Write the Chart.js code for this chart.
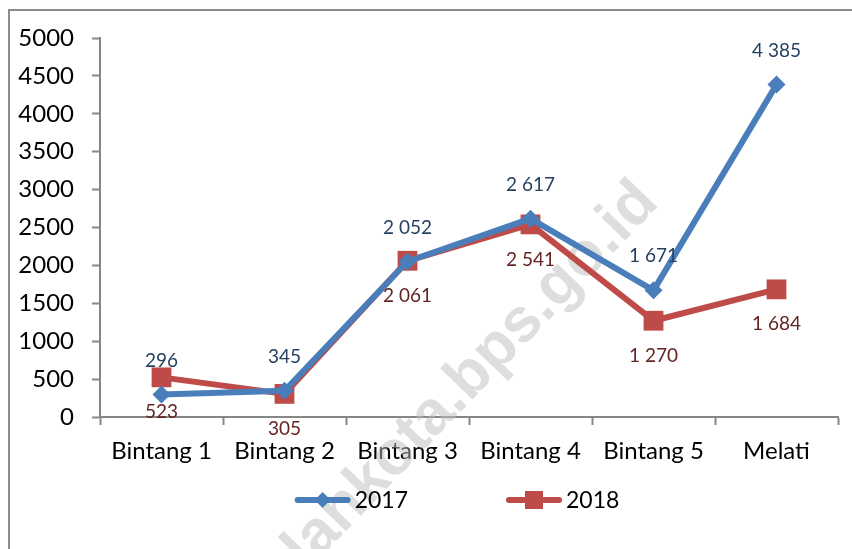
<!DOCTYPE html>
<html>
<head>
<meta charset="utf-8">
<script src="https://cdn.jsdelivr.net/npm/chart.js@4/dist/chart.umd.min.js"></script>
<style>
  html, body { margin: 0; padding: 0; background: #fff; }
  #wrap { width: 852px; height: 549px; position: relative; }
  canvas { display: block; }
</style>
</head>
<body>
<div id="wrap"><canvas id="hotelChart" width="852" height="549"></canvas></div>
<script>
// Data
const categories = ['Bintang 1', 'Bintang 2', 'Bintang 3', 'Bintang 4', 'Bintang 5', 'Melati'];
const series2017 = [296, 345, 2052, 2617, 1671, 4385];
const series2018 = [523, 305, 2061, 2541, 1270, 1684];
const seriesNames = ['2017', '2018'];
const yTicks = [0, 500, 1000, 1500, 2000, 2500, 3000, 3500, 4000, 4500, 5000];

const FONT = 'Lato, "Liberation Sans", sans-serif';
const BLUE = '#4A7EBB';
const RED = '#BE4B48';
const BLUE_TXT = '#254061';
const RED_TXT = '#632523';
const AXIS = '#868686';

// "4385" -> "4 385"
function fmt(v) {
    return String(v).replace(/\B(?=(\d{3})+(?!\d))/g, ' ');
}

// Outer frame of the original picture
const framePlugin = {
    id: 'frame',
    beforeDraw(chart) {
        const ctx = chart.ctx;
        ctx.save();
        ctx.fillStyle = '#fff';
        ctx.fillRect(0, 0, chart.width, chart.height);
        ctx.strokeStyle = '#8c8c8c';
        ctx.lineWidth = 2;
        ctx.beginPath();
        ctx.moveTo(9, chart.height + 5);
        ctx.lineTo(9, 10);
        ctx.lineTo(chart.width + 5, 10);
        ctx.stroke();
        ctx.restore();
    }
};

// Faint diagonal watermark
const watermarkPlugin = {
    id: 'watermark',
    beforeDatasetsDraw(chart) {
        const ctx = chart.ctx;
        ctx.save();
        ctx.translate(648, 192);
        ctx.rotate(-Math.PI / 4 - 0.02);
        ctx.font = 'bold 62px "Liberation Sans", Arial, sans-serif';
        ctx.fillStyle = 'rgba(190,190,190,0.5)';
        ctx.textAlign = 'right';
        ctx.textBaseline = 'middle';
        ctx.fillText('medankota.bps.go.id', 0, 0);
        ctx.restore();
    }
};

// Value labels: 2017 above its points, 2018 below
const valueLabels = {
    id: 'valueLabels',
    afterDatasetsDraw(chart) {
        const ctx = chart.ctx;
        ctx.save();
        ctx.font = '19px ' + FONT;
        ctx.textAlign = 'center';
        ctx.textBaseline = 'middle';
        chart.data.datasets.forEach((ds, i) => {
            const meta = chart.getDatasetMeta(i);
            ctx.fillStyle = i === 0 ? BLUE_TXT : RED_TXT;
            meta.data.forEach((pt, j) => {
                const dy = i === 0 ? -34 : 35;
                ctx.fillText(fmt(ds.data[j]), pt.x, pt.y + dy);
            });
        });
        ctx.restore();
    }
};

// Legend with line + marker like the original
const lineLegend = {
    id: 'lineLegend',
    afterDraw(chart) {
        const ctx = chart.ctx;
        const y = 500;
        const lineW = 56, gapText = 4, gapItems = 98;
        ctx.save();
        ctx.font = '23px ' + FONT;
        const widths = seriesNames.map(n => lineW + gapText + ctx.measureText(n).width);
        const total = widths[0] + gapItems + widths[1];
        let x = 457 - total / 2;
        chart.data.datasets.forEach((ds, i) => {
            const col = ds.borderColor;
            ctx.strokeStyle = col;
            ctx.lineWidth = 6;
            ctx.lineCap = 'round';
            ctx.beginPath();
            ctx.moveTo(x + 3, y);
            ctx.lineTo(x + lineW - 3, y);
            ctx.stroke();
            const cx = x + lineW / 2;
            ctx.fillStyle = col;
            if (i === 0) {
                ctx.beginPath();
                ctx.moveTo(cx, y - 8);
                ctx.lineTo(cx + 8, y);
                ctx.lineTo(cx, y + 8);
                ctx.lineTo(cx - 8, y);
                ctx.closePath();
                ctx.fill();
            } else {
                ctx.fillRect(cx - 9, y - 9, 18, 18);
            }
            ctx.fillStyle = '#000';
            ctx.textAlign = 'left';
            ctx.textBaseline = 'middle';
            ctx.fillText(ds.label, x + lineW + gapText, y + 1);
            x += widths[i] + gapItems;
        });
        ctx.restore();
    }
};

const ctx = document.getElementById('hotelChart').getContext('2d');
new Chart(ctx, {
    type: 'line',
    data: {
        labels: categories,
        datasets: [
            {
                label: seriesNames[0],
                data: series2017,
                borderColor: BLUE,
                backgroundColor: BLUE,
                borderWidth: 6,
                borderJoinStyle: 'round',
                borderCapStyle: 'round',
                pointStyle: 'rectRot',
                pointRadius: 9,
                pointBorderWidth: 0,
                pointBackgroundColor: BLUE,
                tension: 0
            },
            {
                label: seriesNames[1],
                data: series2018,
                borderColor: RED,
                backgroundColor: RED,
                borderWidth: 6,
                borderJoinStyle: 'round',
                borderCapStyle: 'round',
                pointStyle: 'rect',
                pointRadius: 14,
                pointBorderWidth: 0,
                pointBackgroundColor: RED,
                tension: 0
            }
        ]
    },
    options: {
        responsive: false,
        animation: false,
        devicePixelRatio: 1,
        layout: { padding: { left: 0, top: 38, right: 10, bottom: 0 } },
        plugins: {
            legend: { display: false },
            tooltip: { enabled: false }
        },
        scales: {
            x: {
                offset: true,
                grid: {
                    offset: true,
                    drawOnChartArea: false,
                    drawTicks: true,
                    tickLength: 8,
                    tickColor: AXIS,
                    tickWidth: 2
                },
                border: { display: true, color: AXIS, width: 2 },
                ticks: {
                    color: '#000',
                    font: { family: FONT, size: 24 },
                    padding: 12,
                    maxRotation: 0,
                    autoSkip: false
                },
                afterFit(scale) { scale.height = 132; }
            },
            y: {
                min: 0,
                max: 5000,
                afterBuildTicks(scale) { scale.ticks = yTicks.map(v => ({ value: v })); },
                grid: {
                    drawOnChartArea: false,
                    drawTicks: true,
                    tickLength: 8,
                    tickColor: AXIS,
                    tickWidth: 2
                },
                border: { display: true, color: AXIS, width: 2 },
                ticks: {
                    color: '#000',
                    font: { family: FONT, size: 24 },
                    padding: 18,
                    callback: v => String(v)
                },
                afterFit(scale) { scale.width = 100; }
            }
        }
    },
    plugins: [framePlugin, watermarkPlugin, valueLabels, lineLegend]
});
</script>
</body>
</html>
